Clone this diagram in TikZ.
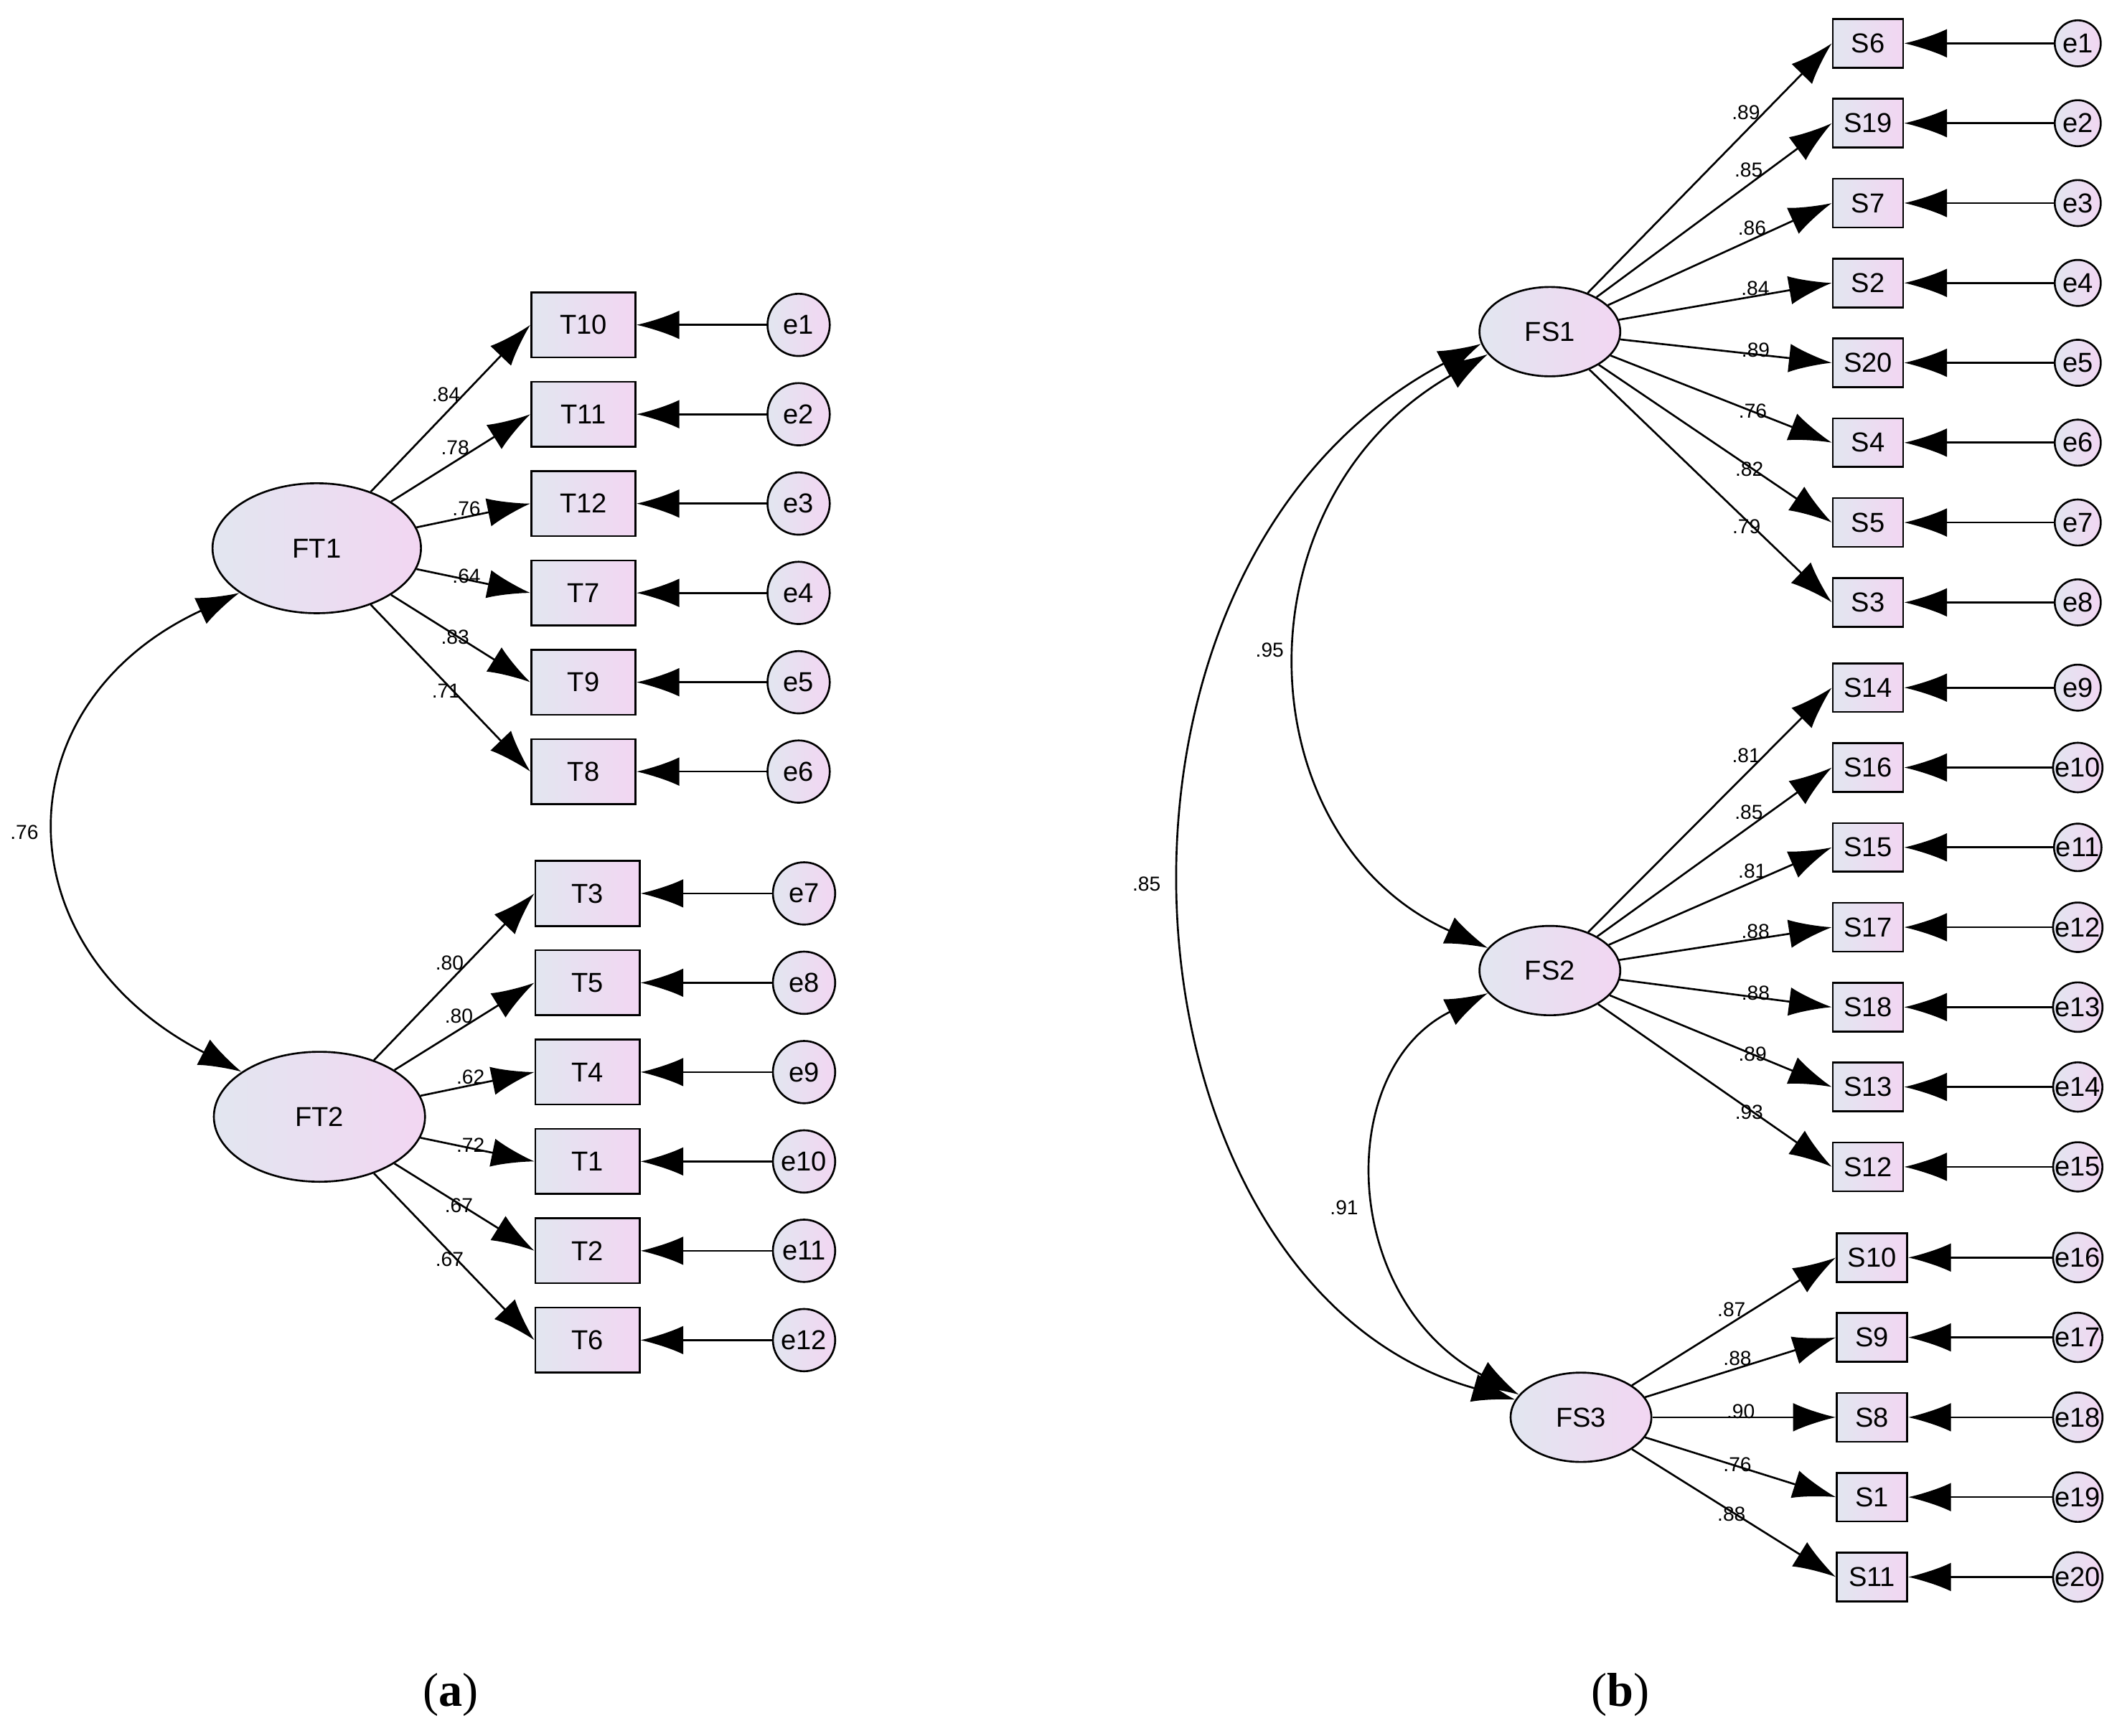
\documentclass[tikz,border=0pt]{standalone}
\usepackage{fontspec}
\setmainfont{Liberation Sans}
\newfontfamily\capfont{Liberation Serif}
\usetikzlibrary{arrows.meta, shapes.geometric}
\definecolor{nodeA}{HTML}{E2E6F0}
\definecolor{nodeB}{HTML}{F2D6F2}
\tikzset{
  obs/.style={draw, thick, rectangle, minimum width=#1, minimum height=48, inner sep=0pt, left color=nodeA, right color=nodeB, font=\fontsize{11.5}{12}\selectfont},
  obs/.default=77,
  lat/.style={draw, thick, ellipse, left color=nodeA, right color=nodeB, font=\fontsize{11.5}{12}\selectfont},
  err/.style={draw, thick, circle, inner sep=0pt, minimum size=#1, left color=nodeA, right color=nodeB, font=\fontsize{11.5}{12}\selectfont},
  path/.style={thick, -{Latex[length=18, width=12]}},
  cov/.style={thick, {Latex[length=18, width=12]}-{Latex[length=18, width=12]}},
  lbl/.style={font=\fontsize{8.5}{9}\selectfont, inner sep=1pt}
}
\begin{document}
\begin{tikzpicture}[x=0.02cm, y=-0.02cm]
\useasboundingbox (0,0) rectangle (1564,1282);

% (a) latent factors
\node[lat, minimum width=154*0.02cm, minimum height=96*0.02cm] (FT1) at (234,405) {FT1};
\node[lat, minimum width=156*0.02cm, minimum height=96*0.02cm] (FT2) at (236,825) {FT2};

% (a) indicators
\foreach \n/\y/\e/\w in {T10/240/e1/.84, T11/306/e2/.78, T12/372/e3/.76, T7/438/e4/.64, T9/504/e5/.83, T8/570/e6/.71}{
  \node[obs=77*0.02cm, minimum height=48*0.02cm] (\n) at (431,\y) {\n};
  \node[err=46*0.02cm] (\e) at (590,\y) {\e};
  \draw[path] (FT1) -- (\n.west) node[lbl, pos=0.55, above left=-2pt] {\w};
  \draw[path] (\e) -- (\n);
}
\foreach \n/\y/\e/\w in {T3/660/e7/.80, T5/726/e8/.80, T4/792/e9/.62, T1/858/e10/.72, T2/924/e11/.67, T6/990/e12/.67}{
  \node[obs=77*0.02cm, minimum height=48*0.02cm] (\n) at (434,\y) {\n};
  \node[err=46*0.02cm] (\e) at (594,\y) {\e};
  \draw[path] (FT2) -- (\n.west) node[lbl, pos=0.55, above left=-2pt] {\w};
  \draw[path] (\e) -- (\n);
}
\draw[cov] (FT1.210) .. controls (0,520) and (0,700) .. (FT2.150);
\node[lbl] (c1) at (18,615) {.76};

% (b) latent factors
\node[lat, minimum width=104*0.02cm, minimum height=66*0.02cm] (FS1) at (1145,245) {FS1};
\node[lat, minimum width=104*0.02cm, minimum height=66*0.02cm] (FS2) at (1145,717) {FS2};
\node[lat, minimum width=104*0.02cm, minimum height=66*0.02cm] (FS3) at (1168,1047) {FS3};

% (b) indicators
\foreach \n/\y/\e/\w in {S6/32/e1/.89, S19/91/e2/.85, S7/150/e3/.86, S2/209/e4/.84, S20/268/e5/.89, S4/327/e6/.76, S5/386/e7/.82, S3/445/e8/.79}{
  \node[obs=52*0.02cm, minimum height=36*0.02cm] (\n) at (1380,\y) {\n};
  \node[err=34*0.02cm] (\e) at (1535,\y) {\e};
  \draw[path] (FS1) -- (\n.west) node[lbl, pos=0.7, above left=-2pt] {\w};
  \draw[path] (\e) -- (\n);
}
\foreach \n/\y/\e/\w in {S14/508/e9/.81, S16/567/e10/.85, S15/626/e11/.81, S17/685/e12/.88, S18/744/e13/.88, S13/803/e14/.89, S12/862/e15/.93}{
  \node[obs=52*0.02cm, minimum height=36*0.02cm] (\n) at (1380,\y) {\n};
  \node[err=34*0.02cm] (\e) at (1535,\y) {\e};
  \draw[path] (FS2) -- (\n.west) node[lbl, pos=0.7, above left=-2pt] {\w};
  \draw[path] (\e) -- (\n);
}
\foreach \n/\y/\e/\w in {S10/929/e16/.87, S9/988/e17/.88, S8/1047/e18/.90, S1/1106/e19/.76, S11/1165/e20/.88}{
  \node[obs=52*0.02cm, minimum height=36*0.02cm] (\n) at (1383,\y) {\n};
  \node[err=34*0.02cm] (\e) at (1535,\y) {\e};
  \draw[path] (FS3) -- (\n.west) node[lbl, pos=0.55, above left=-2pt] {\w};
  \draw[path] (\e) -- (\n);
}
\draw[cov] (FS1.200) .. controls (910,370) and (920,620) .. (FS2.160);
\draw[cov] (FS1.190) .. controls (780,420) and (820,950) .. (FS3.165);
\draw[cov] (FS2.200) .. controls (985,790) and (990,960) .. (FS3.160);
\node[lbl] (c2) at (938,480) {.95};
\node[lbl] (c3) at (847,653) {.85};
\node[lbl] (c4) at (993,892) {.91};

% captions
\node[font=\capfont\fontsize{20}{22}\selectfont] (capA) at (333,1252) {(\textbf{a})};
\node[font=\capfont\fontsize{20}{22}\selectfont] (capB) at (1197,1252) {(\textbf{b})};
\end{tikzpicture}
\end{document}
